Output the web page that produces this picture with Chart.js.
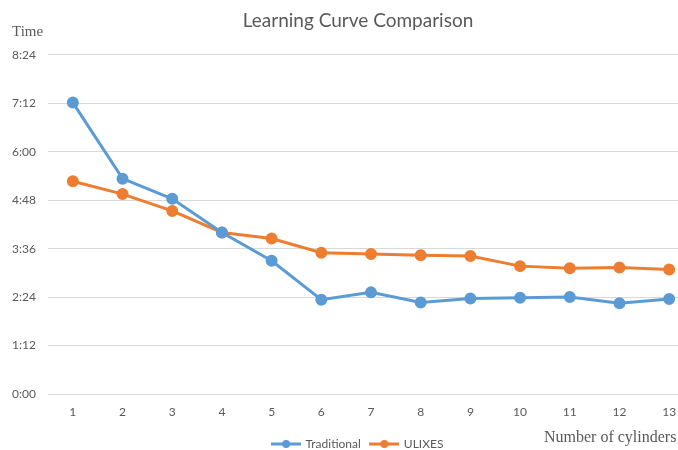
<!DOCTYPE html>
<html>
<head>
<meta charset="utf-8">
<script src="https://cdn.jsdelivr.net/npm/chart.js@4"></script>
<style>
  html, body { margin: 0; padding: 0; background: #fff; overflow: hidden; }
  #wrap { width: 716px; height: 450px; }
</style>
</head>
<body>
<div id="wrap"><canvas id="curve"></canvas></div>
<script>
// cylinders on x, time in seconds on y
const cylinders = ["1","2","3","4","5","6","7","8","9","10","11","12","13"];
const traditional = [433, 320, 290, 240, 198, 140, 151, 136, 142, 143, 144, 135, 141];
const ulixes      = [316, 297, 272, 240, 231, 210, 208, 206, 205, 190, 187, 188, 185];

const blue = '#5B9BD5', orange = '#ED7D31', grey = '#595959';

function fmt(sec) {
  const m = Math.floor(sec / 60), s = Math.round(sec % 60);
  return m + ':' + (s < 10 ? '0' : '') + s;
}

// legend marker: short line with a dot in the middle
function marker(col) {
  const c = document.createElement('canvas');
  c.width = 30; c.height = 10;
  const g = c.getContext('2d');
  g.strokeStyle = col; g.lineWidth = 3;
  g.beginPath(); g.moveTo(0, 5); g.lineTo(30, 5); g.stroke();
  g.fillStyle = col;
  g.beginPath(); g.arc(15, 5, 4, 0, Math.PI * 2); g.fill();
  return c;
}

const axisTitles = {
  id: 'axisTitles',
  afterDraw(chart) {
    const ctx = chart.ctx;
    ctx.save();
    ctx.fillStyle = grey;
    ctx.textBaseline = 'middle';
    ctx.textAlign = 'left';
    ctx.font = '15px "Liberation Serif"';
    ctx.fillText('Time', 12, 32);
    ctx.font = '16px "Liberation Serif"';
    ctx.fillText('Number of cylinders', 544, 438);
    ctx.restore();
  }
};

new Chart(document.getElementById('curve'), {
  type: 'line',
  data: {
    labels: cylinders,
    datasets: [
      {label: 'Traditional', data: traditional, borderColor: blue, backgroundColor: blue,
       borderWidth: 3, pointRadius: 4.5, pointStyle: 'circle', tension: 0},
      {label: 'ULIXES', data: ulixes, borderColor: orange, backgroundColor: orange,
       borderWidth: 3, pointRadius: 4.5, pointStyle: 'circle', tension: 0}
    ]
  },
  options: {
    responsive: true,
    maintainAspectRatio: false,
    animation: false,
    layout: {padding: {left: 0, right: 0, top: 0, bottom: -10}},
    plugins: {
      title: {display: true, text: 'Learning Curve Comparison', color: grey,
              font: {family: 'Lato', size: 19, weight: 'normal'}, padding: {top: 9, bottom: 23}},
      legend: {position: 'bottom',
               labels: {color: grey, font: {family: 'Lato', size: 12},
                        usePointStyle: true, pointStyleWidth: 27, boxHeight: 10, padding: 10,
                        generateLabels(chart) {
                          return chart.data.datasets.map((d, i) => ({
                            text: d.label, fontColor: grey, datasetIndex: i,
                            pointStyle: marker(d.borderColor), lineWidth: 0,
                            strokeStyle: 'transparent', fillStyle: 'transparent'
                          }));
                        }}},
      tooltip: {enabled: false}
    },
    scales: {
      x: {offset: true,
          grid: {display: false},
          border: {color: '#d9d9d9'},
          ticks: {color: grey, font: {family: 'Lato', size: 12}, padding: 3},
          afterFit(s) { s.height = 34; s.paddingRight = 22; }},
      y: {min: 0, max: 504,
          grid: {color: '#d9d9d9', drawTicks: false},
          border: {display: false},
          ticks: {stepSize: 72, color: grey, font: {family: 'Lato', size: 12}, padding: 12,
                  callback: v => fmt(v)},
          afterFit(s) { s.width = 48; }}
    }
  },
  plugins: [axisTitles]
});
</script>
</body>
</html>
